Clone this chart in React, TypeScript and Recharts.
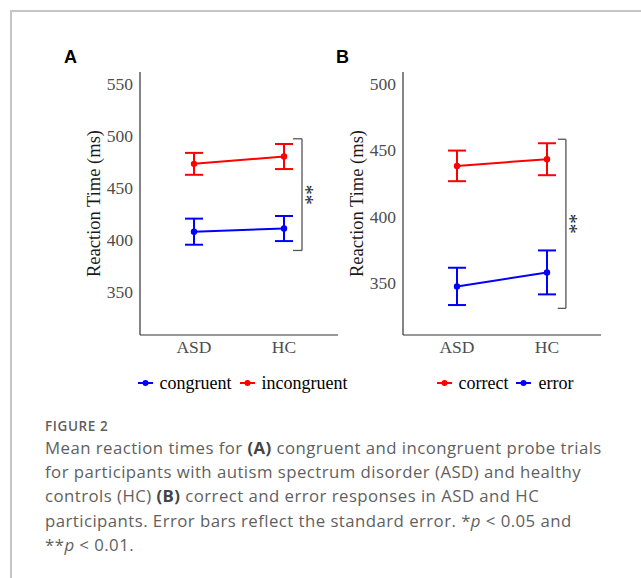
import React from "react";
import { LineChart, Line, XAxis, YAxis, ErrorBar, ReferenceLine, Legend } from "recharts";

const groups = ["ASD", "HC"];
const groupPos = [1, 2];

// panel A
const congruentMean = [408, 411];
const congruentSe = [12.5, 12];
const incongruentMean = [473, 480];
const incongruentSe = [10.5, 12];

// panel B
const correctMean = [438, 443];
const correctSe = [11.5, 12];
const errorMean = [347.5, 358];
const errorSe = [14, 16.5];

const ticksA = [350, 400, 450, 500, 550];
const ticksB = [350, 400, 450, 500];
const domainA = [309, 561];
const domainB = [311, 508.5];

// significance brackets (x of bar, x of the short ends, top, bottom)
const bracketA = { x: 2.2, tip: 2.1, top: 497, bottom: 390 };
const bracketB = { x: 2.21, tip: 2.12, top: 458, bottom: 331 };

const SERIF = '"Liberation Serif", "Times New Roman", serif';
const SANS = '"Open Sans", "Noto Sans", sans-serif';
const RED = "#ff0000";
const BLUE = "#0000ff";

const dataA = groups.map((g, i) => ({
  x: groupPos[i],
  congruent: congruentMean[i],
  congruentSe: congruentSe[i],
  incongruent: incongruentMean[i],
  incongruentSe: incongruentSe[i],
}));

const dataB = groups.map((g, i) => ({
  x: groupPos[i],
  correct: correctMean[i],
  correctSe: correctSe[i],
  error: errorMean[i],
  errorSe: errorSe[i],
}));

type Series = { key: string; color: string };
type Bracket = { x: number; tip: number; top: number; bottom: number };

const renderLegend = (props: any) => {
  const items = props.payload || [];
  return (
    <div
      style={{
        display: "flex",
        justifyContent: "center",
        alignItems: "center",
        fontFamily: SERIF,
        fontSize: 18,
        lineHeight: "20px",
        color: "#000",
        whiteSpace: "nowrap",
      }}
    >
      {items.map((it: any, i: number) => (
        <span key={i} style={{ display: "flex", alignItems: "center", marginLeft: i === 0 ? 0 : 8 }}>
          <svg width={15} height={10} style={{ display: "block" }}>
            <line x1={0} y1={5} x2={15} y2={5} stroke={it.color} strokeWidth={2} />
            <circle cx={7.5} cy={5} r={3} fill={it.color} />
          </svg>
          <span style={{ marginLeft: 7 }}>{it.value}</span>
        </span>
      ))}
    </div>
  );
};

const starsLabel = (props: any) => {
  const vb = props.viewBox;
  if (!vb) return null;
  const cx = vb.x + vb.width + 4;
  const cy = vb.y + vb.height / 2;
  return (
    <text
      x={cx}
      y={cy}
      transform={`rotate(90 ${cx} ${cy})`}
      textAnchor="middle"
      dominantBaseline="central"
      fontSize={20}
      fontFamily={SERIF}
      fill="#222"
    >
      **
    </text>
  );
};

function Panel({
  left,
  data,
  series,
  domain,
  ticks,
  bracket,
  marginLeft,
  marginRight,
  labelOffset,
  legendLeft,
}: {
  left: number;
  data: any[];
  series: Series[];
  domain: number[];
  ticks: number[];
  bracket: Bracket;
  marginLeft: number;
  marginRight: number;
  labelOffset: number;
  legendLeft: number;
}) {
  const tickStyle = { fill: "#4d4d4d", fontSize: 17.5, fontFamily: SERIF };
  return (
    <div style={{ position: "absolute", left, top: 40 }}>
      <LineChart
        width={310}
        height={360}
        data={data}
        margin={{ top: 32, right: marginRight, bottom: 35, left: marginLeft }}
      >
        <XAxis
          type="number"
          dataKey="x"
          domain={[0.4, 2.6]}
          ticks={groupPos}
          interval={0}
          allowDataOverflow
          tickFormatter={(v: number) => groups[Math.round(v) - 1]}
          tickLine={false}
          tickMargin={0}
          axisLine={{ stroke: "#333", strokeWidth: 1.2 }}
          tick={tickStyle}
          height={30}
        />
        <YAxis
          type="number"
          domain={domain}
          ticks={ticks}
          interval={0}
          allowDataOverflow
          tickLine={false}
          tickMargin={1}
          axisLine={{ stroke: "#333", strokeWidth: 1.2 }}
          tick={tickStyle}
          width={100}
          label={{
            value: "Reaction Time (ms)",
            angle: -90,
            position: "insideLeft",
            offset: labelOffset,
            style: { textAnchor: "middle", fontSize: 18.5, fontFamily: SERIF, fill: "#1a1a1a" },
          }}
        />
        <ReferenceLine
          segment={[
            { x: bracket.x, y: bracket.top },
            { x: bracket.x, y: bracket.bottom },
          ]}
          stroke="#555"
          strokeWidth={1.3}
          label={{ content: starsLabel }}
        />
        <ReferenceLine
          segment={[
            { x: bracket.tip, y: bracket.top },
            { x: bracket.x, y: bracket.top },
          ]}
          stroke="#555"
          strokeWidth={1.3}
        />
        <ReferenceLine
          segment={[
            { x: bracket.tip, y: bracket.bottom },
            { x: bracket.x, y: bracket.bottom },
          ]}
          stroke="#555"
          strokeWidth={1.3}
        />
        {series.map((s) => (
          <Line
            key={s.key}
            type="linear"
            dataKey={s.key}
            name={s.key}
            stroke={s.color}
            strokeWidth={2}
            dot={{ r: 3.2, fill: s.color, stroke: s.color, strokeWidth: 0 }}
            activeDot={false}
            isAnimationActive={false}
          >
            <ErrorBar
              dataKey={s.key + "Se"}
              direction="y"
              width={9}
              stroke={s.color}
              strokeWidth={2}
              isAnimationActive={false}
            />
          </Line>
        ))}
        <Legend
          layout="horizontal"
          verticalAlign="middle"
          align="center"
          wrapperStyle={{ left: legendLeft, top: 333, width: 300 }}
          content={renderLegend}
        />
      </LineChart>
    </div>
  );
}

const captionLine: React.CSSProperties = {
  whiteSpace: "nowrap",
  height: 24.4,
  lineHeight: "24.4px",
};

const letterStyle: React.CSSProperties = {
  position: "absolute",
  top: 48,
  fontFamily: '"Liberation Sans", Arial, sans-serif',
  fontWeight: 700,
  fontSize: 18,
  lineHeight: "18px",
  color: "#000",
};

export default function App() {
  return (
    <div
      style={{
        position: "absolute",
        left: 0,
        top: 0,
        width: 641,
        height: 578,
        background: "#fff",
        overflow: "hidden",
      }}
    >
      <div
        style={{
          position: "absolute",
          left: 10,
          top: 10,
          width: 631,
          height: 568,
          boxSizing: "border-box",
          borderTop: "2px solid #c4c4c4",
          borderLeft: "2px solid #c4c4c4",
        }}
      />
      <div style={{ ...letterStyle, left: 64 }}>A</div>
      <div style={{ ...letterStyle, left: 336 }}>B</div>
      <Panel
        left={40}
        data={dataA}
        series={[
          { key: "congruent", color: BLUE },
          { key: "incongruent", color: RED },
        ]}
        domain={domainA}
        ticks={ticksA}
        bracket={bracketA}
        marginLeft={0}
        marginRight={12}
        labelOffset={53}
        legendLeft={52.5}
      />
      <Panel
        left={300}
        data={dataB}
        series={[
          { key: "correct", color: RED },
          { key: "error", color: BLUE },
        ]}
        domain={domainB}
        ticks={ticksB}
        bracket={bracketB}
        marginLeft={3}
        marginRight={9}
        labelOffset={53.7}
        legendLeft={55}
      />
      <div
        style={{
          position: "absolute",
          left: 45,
          top: 416.8,
          fontFamily: SANS,
          fontWeight: 600,
          fontSize: 13.5,
          letterSpacing: 0.6,
          lineHeight: "19px",
          color: "#5f5f5f",
          whiteSpace: "nowrap",
        }}
      >
        FIGURE 2
      </div>
      <div
        style={{
          position: "absolute",
          left: 45,
          top: 435.6,
          fontFamily: SANS,
          fontSize: 16.8,
          letterSpacing: 0.45,
          color: "#5f5f5f",
        }}
      >
        <div style={captionLine}>
          Mean reaction times for <b style={{ color: "#444" }}>(A)</b> congruent and incongruent probe trials
        </div>
        <div style={captionLine}>for participants with autism spectrum disorder (ASD) and healthy</div>
        <div style={captionLine}>
          controls (HC) <b style={{ color: "#444" }}>(B)</b> correct and error responses in ASD and HC
        </div>
        <div style={captionLine}>
          participants. Error bars reflect the standard error. *<i>p</i> {"<"} 0.05 and
        </div>
        <div style={captionLine}>
          **<i>p</i> {"<"} 0.01.
        </div>
      </div>
    </div>
  );
}
